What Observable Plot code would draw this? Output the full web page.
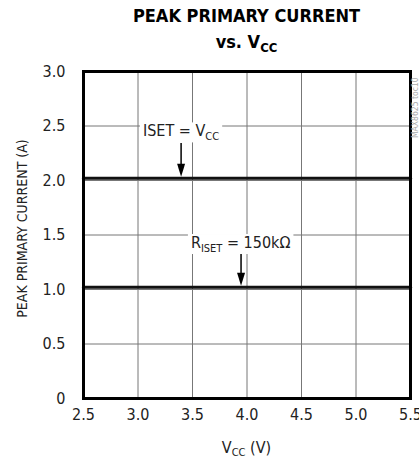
<!DOCTYPE html>
<html>
<head>
<meta charset="utf-8">
<script src="https://cdn.jsdelivr.net/npm/d3@7"></script>
<script src="https://cdn.jsdelivr.net/npm/@observablehq/plot@0.6"></script>
<style>
  body { margin: 0; background: #fff; }
  #wrap { position: relative; width: 419px; height: 459px; overflow: hidden; }
  #title {
    position: relative; height: 58px; margin-left: 83px; width: 327px;
    text-align: center; font-family: "Liberation Sans Narrow", "DejaVu Sans Condensed", sans-serif;
    font-weight: bold; font-size: 18px; line-height: 26px; color: #000; padding-top: 3px; box-sizing: border-box;
  }
  #title .sub { font-size: 13px; position: relative; top: 4px; }
  svg { display: block; }
</style>
</head>
<body>
<div id="wrap">
  <div id="title">PEAK PRIMARY CURRENT<br>vs. V<span class="sub">CC</span></div>
</div>
<script>
// ---- data ----
const vcc = [2.5, 3.0, 3.5, 4.0, 4.5, 5.0, 5.5];
const ipkIsetVcc = [2.02, 2.02, 2.02, 2.02, 2.02, 2.02, 2.02];
const ipkIset150k = [1.02, 1.02, 1.02, 1.02, 1.02, 1.02, 1.02];
const seriesNames = ["ISET = VCC", "RISET = 150kΩ"];

const xTicks = [2.5, 3.0, 3.5, 4.0, 4.5, 5.0, 5.5];
const xTickLabels = ["2.5", "3.0", "3.5", "4.0", "4.5", "5.0", "5.5"];
const yTicks = [0, 0.5, 1.0, 1.5, 2.0, 2.5, 3.0];
const yTickLabels = ["0", "0.5", "1.0", "1.5", "2.0", "2.5", "3.0"];

// annotation anchors in data units
const annotations = [
  {x: 3.05, y: 2.40, main: "ISET = V", sub: "CC", post: "", arrowX: 3.40, arrowFrom: 2.34, arrowTo: 2.03},
  {x: 3.49, y: 1.376, main: "R", sub: "ISET", post: " = 150kΩ", arrowX: 3.95, arrowFrom: 1.33, arrowTo: 1.03}
];

// ---- table ----
const data = [
  ...vcc.map((v, i) => ({vcc: v, ipk: ipkIsetVcc[i], series: seriesNames[0]})),
  ...vcc.map((v, i) => ({vcc: v, ipk: ipkIset150k[i], series: seriesNames[1]}))
];

const FONT = "'Liberation Sans Narrow', 'DejaVu Sans Condensed', sans-serif";

function annotationMark(index, scales, values, dimensions) {
  const g = d3.create("svg:g");
  for (const a of annotations) {
    const ax = scales.x(a.arrowX);
    const y0 = scales.y(a.arrowFrom), y1 = scales.y(a.arrowTo);
    g.append("line").attr("x1", ax).attr("x2", ax).attr("y1", y0).attr("y2", y1 - 11)
      .attr("stroke", "#000").attr("stroke-width", 1.5);
    g.append("path").attr("d", `M${ax - 4},${y1 - 13}L${ax + 4},${y1 - 13}L${ax},${y1}Z`).attr("fill", "#000");
    const t = g.append("text").attr("class", "anno-label")
      .attr("x", scales.x(a.x)).attr("y", scales.y(a.y)).attr("text-anchor", "start")
      .attr("font-family", FONT).attr("font-size", 16).attr("fill", "#222");
    t.append("tspan").text(a.main);
    t.append("tspan").attr("font-size", 11).attr("dy", 4).text(a.sub);
    if (a.post) t.append("tspan").attr("dy", -4).text(a.post);
  }
  return g.node();
}

function titlesMark(index, scales, values, dimensions) {
  const {width, height, marginLeft, marginRight, marginTop, marginBottom} = dimensions;
  const g = d3.create("svg:g").attr("font-family", FONT).attr("fill", "#222");
  const cx = marginLeft + (width - marginLeft - marginRight) / 2;
  const xt = g.append("text").attr("x", cx).attr("y", height - 6).attr("text-anchor", "middle").attr("font-size", 16);
  xt.append("tspan").text("V");
  xt.append("tspan").attr("font-size", 11).attr("dy", 3).text("CC");
  xt.append("tspan").attr("dy", -3).text(" (V)");
  g.append("text").attr("transform", `translate(27,${marginTop + (height - marginTop - marginBottom) / 2 - 6}) rotate(-90)`)
    .attr("text-anchor", "middle").attr("font-size", 14).text("PEAK PRIMARY CURRENT (A)");
  g.append("text").attr("transform", `translate(${width - 1},${marginTop + 67}) rotate(-90)`)
    .attr("text-anchor", "start").attr("font-size", 8.5).attr("fill", "#aaa").text("MAX8625 toc10");
  return g.node();
}

const chart = Plot.plot({
  width: 419,
  height: 401,
  marginTop: 13,
  marginLeft: 83,
  marginRight: 9,
  marginBottom: 61,
  style: {fontFamily: FONT, fontSize: "16px", color: "#222", background: "#fff"},
  x: {domain: [2.5, 5.5]},
  y: {domain: [0, 3]},
  marks: [
    Plot.gridX(xTicks, {stroke: "#777", strokeOpacity: 1, strokeWidth: 1}),
    Plot.gridY(yTicks, {stroke: "#777", strokeOpacity: 1, strokeWidth: 1}),
    Plot.line(data, {x: "vcc", y: "ipk", z: "series", stroke: "#111", strokeWidth: 3}),
    annotationMark,
    Plot.frame({stroke: "#000", strokeWidth: 3}),
    Plot.axisX(xTicks, {tickSize: 0, tickPadding: 10, label: null, fontSize: 16,
      tickFormat: d => xTickLabels[xTicks.indexOf(d)]}),
    Plot.axisY(yTicks, {tickSize: 0, tickPadding: 18, label: null, fontSize: 16,
      tickFormat: d => yTickLabels[yTicks.indexOf(d)]}),
    titlesMark
  ]
});

document.getElementById("wrap").append(chart);

// white boxes behind annotation labels
d3.select(chart).selectAll("text.anno-label").each(function() {
  const b = this.getBBox();
  d3.select(this.parentNode).insert("rect", () => this)
    .attr("x", b.x - 3).attr("y", b.y + 1).attr("width", b.width + 6).attr("height", b.height - 2)
    .attr("fill", "#fff");
});
</script>
</body>
</html>
